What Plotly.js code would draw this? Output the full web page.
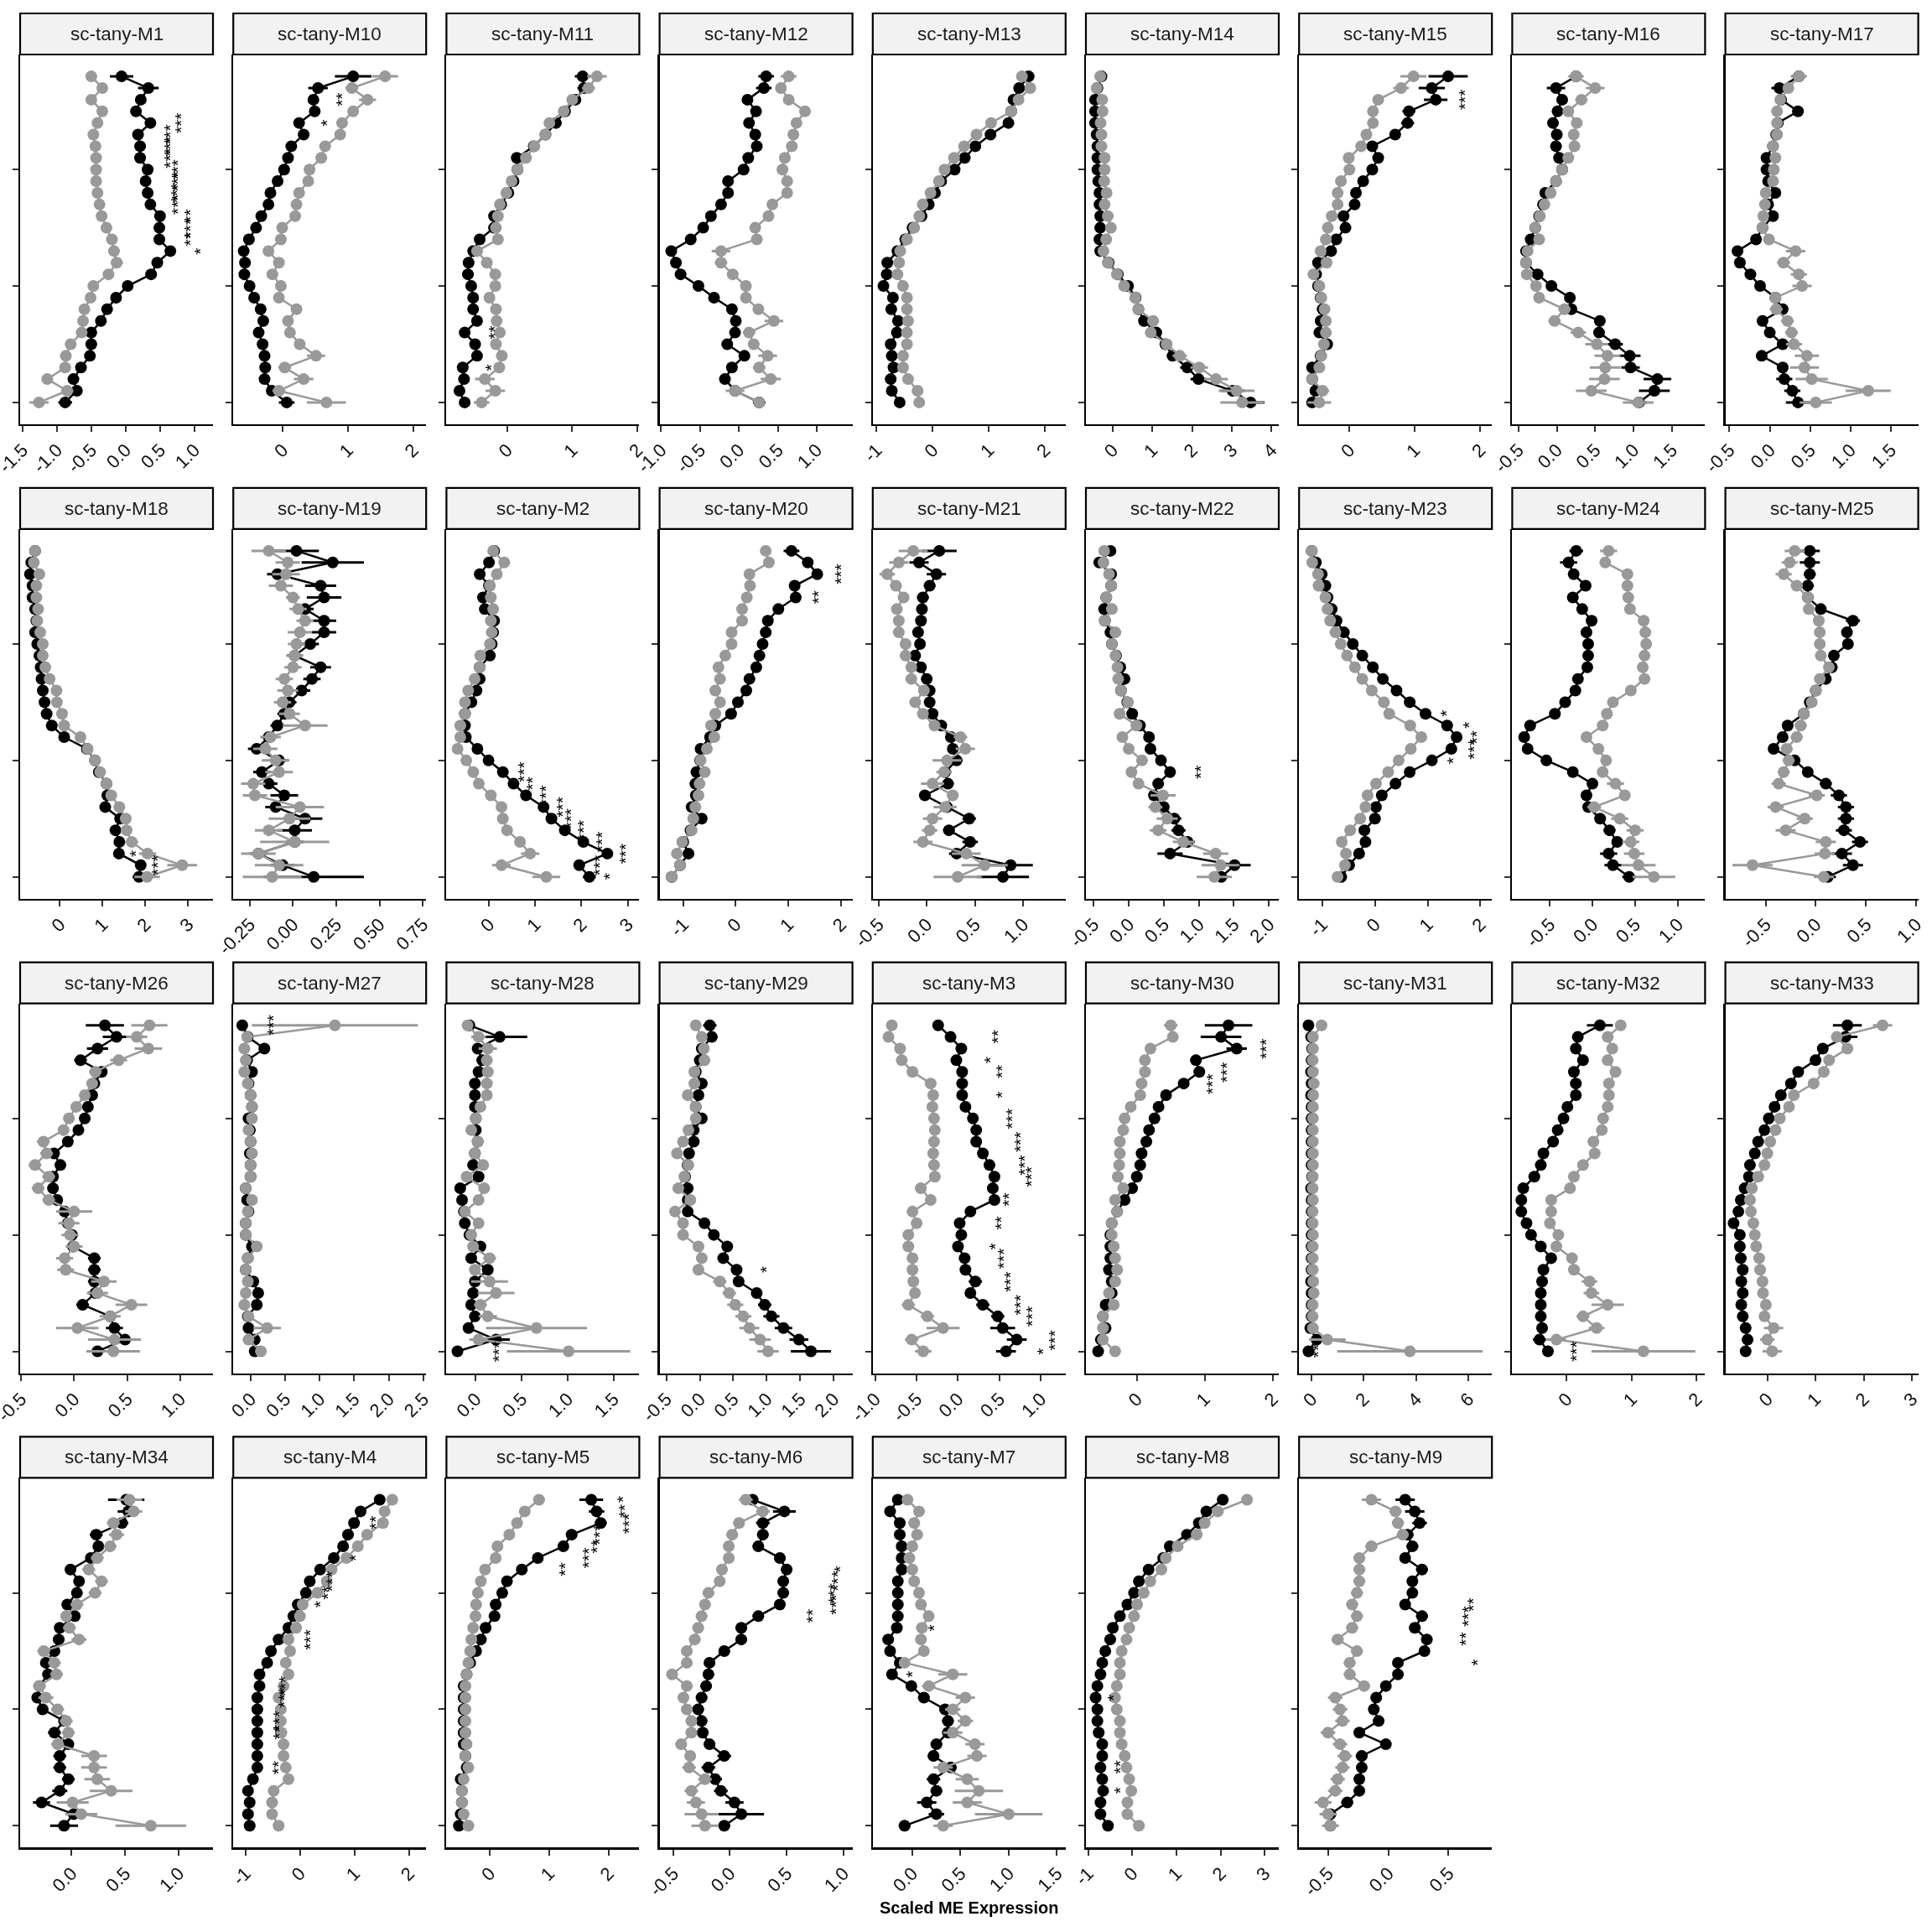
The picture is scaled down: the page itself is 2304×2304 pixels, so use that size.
<!DOCTYPE html>
<html><head><meta charset="utf-8">
<script src="https://cdn.plot.ly/plotly-3.0.1.min.js"></script>
<style>html,body{margin:0;padding:0;background:#fff}#chart{width:2304px;height:2304px;filter:grayscale(1)}</style>
</head><body><div id="chart"></div>
<script>
const panelNames = ["sc-tany-M1","sc-tany-M10","sc-tany-M11","sc-tany-M12","sc-tany-M13","sc-tany-M14","sc-tany-M15","sc-tany-M16","sc-tany-M17",
"sc-tany-M18","sc-tany-M19","sc-tany-M2","sc-tany-M20","sc-tany-M21","sc-tany-M22","sc-tany-M23","sc-tany-M24","sc-tany-M25",
"sc-tany-M26","sc-tany-M27","sc-tany-M28","sc-tany-M29","sc-tany-M3","sc-tany-M30","sc-tany-M31","sc-tany-M32","sc-tany-M33",
"sc-tany-M34","sc-tany-M4","sc-tany-M5","sc-tany-M6","sc-tany-M7","sc-tany-M8","sc-tany-M9"];
const rowPos = [28,27,26,25,24,23,22,21,20,19,18,17,16,15,14,13,12,11,10,9,8,7,6,5,4,3,2,1,0];
const yTickVals = [0,10,20];
const xAxisTitle = "Scaled ME Expression";

// values listed from top row to bottom row
const m1Black=[-0.06,0.33,0.22,0.15,0.36,0.18,0.21,0.21,0.32,0.29,0.32,0.36,0.50,0.49,0.49,0.65,0.46,0.37,0.03,-0.14,-0.27,-0.36,-0.50,-0.50,-0.52,-0.65,-0.76,-0.71,-0.88];
const m1Gray=[-0.50,-0.34,-0.50,-0.34,-0.41,-0.47,-0.44,-0.43,-0.43,-0.43,-0.41,-0.38,-0.35,-0.28,-0.20,-0.17,-0.13,-0.25,-0.47,-0.51,-0.60,-0.62,-0.64,-0.80,-0.87,-0.88,-1.14,-0.85,-1.26];
const m10Black=[1.08,0.54,0.47,0.49,0.25,0.32,0.13,0.08,0.02,-0.08,-0.19,-0.22,-0.33,-0.41,-0.52,-0.60,-0.58,-0.59,-0.51,-0.44,-0.34,-0.30,-0.37,-0.31,-0.28,-0.27,-0.28,-0.17,0.06];
const m10Gray=[1.57,1.06,1.30,1.08,0.91,0.88,0.65,0.59,0.41,0.39,0.25,0.21,0.19,-0.01,-0.03,-0.22,-0.06,-0.16,-0.03,-0.06,0.21,0.08,0.11,0.26,0.51,0.03,0.32,-0.06,0.67];
const m11Black=[1.16,1.18,1.05,0.89,0.75,0.59,0.41,0.15,0.16,0.10,0.02,-0.09,-0.20,-0.20,-0.42,-0.52,-0.59,-0.60,-0.55,-0.52,-0.52,-0.46,-0.65,-0.49,-0.46,-0.68,-0.66,-0.73,-0.65];
const m11Gray=[1.38,1.25,1.00,0.87,0.65,0.59,0.42,0.29,0.16,0.07,-0.01,-0.11,-0.14,-0.17,-0.14,-0.46,-0.31,-0.18,-0.18,-0.27,-0.17,-0.16,-0.11,-0.17,-0.08,-0.12,-0.34,-0.18,-0.39];
const m12Black=[0.35,0.32,0.11,0.22,0.13,0.21,0.23,0.12,0.06,-0.14,-0.14,-0.23,-0.36,-0.46,-0.62,-0.87,-0.81,-0.75,-0.52,-0.32,-0.09,-0.04,-0.05,-0.15,0.07,-0.09,-0.18,-0.05,0.26];
const m12Gray=[0.64,0.54,0.64,0.85,0.74,0.70,0.68,0.59,0.56,0.62,0.62,0.43,0.38,0.21,0.23,-0.23,-0.23,-0.08,0.09,0.09,0.25,0.45,0.13,0.19,0.37,0.26,0.41,-0.05,0.26];
const m13Black=[1.71,1.54,1.44,1.40,1.35,1.03,0.76,0.57,0.39,0.15,0.04,-0.07,-0.20,-0.36,-0.49,-0.63,-0.81,-0.82,-0.88,-0.71,-0.74,-0.62,-0.64,-0.75,-0.73,-0.70,-0.75,-0.73,-0.59];
const m13Gray=[1.59,1.74,1.53,1.40,1.04,0.78,0.56,0.38,0.21,0.11,-0.04,-0.18,-0.24,-0.33,-0.46,-0.58,-0.60,-0.63,-0.53,-0.46,-0.46,-0.44,-0.46,-0.46,-0.53,-0.53,-0.44,-0.27,-0.24];
const m14Black=[-0.28,-0.38,-0.44,-0.44,-0.44,-0.40,-0.38,-0.38,-0.38,-0.36,-0.33,-0.33,-0.31,-0.31,-0.33,-0.31,-0.10,0.13,0.39,0.58,0.65,0.79,1.10,1.33,1.51,1.88,2.16,3.02,3.47];
const m14Gray=[-0.31,-0.40,-0.26,-0.25,-0.30,-0.28,-0.28,-0.20,-0.20,-0.21,-0.15,-0.20,-0.12,-0.04,-0.16,-0.23,-0.12,0.11,0.29,0.57,0.65,1.02,0.96,1.36,1.69,2.18,2.60,3.12,3.26];
const m15Black=[1.51,1.26,1.32,0.91,0.89,0.70,0.35,0.44,0.35,0.21,0.10,0.08,-0.09,-0.06,-0.20,-0.28,-0.48,-0.51,-0.48,-0.44,-0.41,-0.44,-0.46,-0.34,-0.44,-0.57,-0.57,-0.52,-0.57];
const m15Gray=[0.98,0.79,0.44,0.36,0.36,0.26,0.18,-0.01,0.00,-0.13,-0.18,-0.18,-0.27,-0.33,-0.36,-0.44,-0.35,-0.55,-0.46,-0.43,-0.38,-0.36,-0.36,-0.39,-0.43,-0.46,-0.57,-0.41,-0.46];
const m16Black=[0.25,-0.01,0.07,0.01,-0.05,0.00,-0.01,0.03,0.07,-0.01,-0.15,-0.18,-0.23,-0.28,-0.34,-0.40,-0.40,-0.25,-0.07,0.17,0.19,0.56,0.55,0.76,0.95,0.96,1.31,1.27,1.07];
const m16Gray=[0.25,0.50,0.32,0.15,0.26,0.22,0.23,0.15,0.07,-0.01,-0.08,-0.16,-0.22,-0.28,-0.23,-0.38,-0.40,-0.39,-0.27,-0.23,0.10,-0.03,0.28,0.52,0.66,0.63,0.62,0.45,1.06];
const m17Black=[0.36,0.12,0.14,0.35,0.10,0.08,0.04,-0.04,-0.04,-0.02,0.07,-0.02,0.04,-0.09,-0.17,-0.40,-0.37,-0.24,-0.12,0.07,0.16,-0.09,0.00,0.16,-0.10,0.16,0.18,0.28,0.35];
const m17Gray=[0.36,0.23,0.13,0.09,0.09,0.09,0.04,0.07,0.05,0.04,-0.05,-0.06,-0.08,-0.09,-0.01,0.32,0.17,0.36,0.40,0.07,0.08,0.22,0.27,0.30,0.46,0.43,0.52,1.22,0.57];
const m18Black=[-0.58,-0.67,-0.70,-0.64,-0.64,-0.58,-0.55,-0.58,-0.53,-0.48,-0.45,-0.43,-0.40,-0.36,-0.31,-0.19,0.10,0.63,0.82,0.91,1.09,1.11,1.06,1.41,1.30,1.39,1.38,1.89,1.85];
const m18Gray=[-0.58,-0.61,-0.48,-0.55,-0.55,-0.51,-0.53,-0.46,-0.40,-0.40,-0.34,-0.24,-0.08,-0.07,0.05,0.10,0.48,0.65,0.82,0.94,1.09,1.20,1.39,1.54,1.56,1.68,2.05,2.86,2.04];
const m19Black=[0.02,0.23,-0.09,0.16,0.18,0.07,0.18,0.18,0.10,0.01,0.16,0.11,0.05,-0.02,-0.05,-0.09,-0.14,-0.21,-0.08,-0.18,-0.14,-0.05,-0.10,0.07,0.01,0.01,-0.20,-0.06,0.12];
const m19Gray=[-0.14,-0.03,-0.04,-0.07,0.00,0.03,0.07,0.04,0.02,0.01,0.00,-0.05,-0.03,-0.06,-0.02,0.07,-0.13,-0.16,-0.10,-0.08,-0.23,-0.22,0.04,-0.02,-0.14,0.01,-0.20,-0.08,-0.12];
const m2Black=[0.11,0.00,-0.20,0.00,-0.13,-0.09,0.11,0.09,0.06,0.02,-0.20,-0.20,-0.27,-0.38,-0.52,-0.52,-0.50,-0.25,-0.01,0.30,0.53,0.80,1.18,1.35,1.64,2.04,2.56,1.95,2.17];
const m2Gray=[0.09,0.33,0.17,0.02,0.04,0.09,0.04,0.06,0.02,-0.19,-0.20,-0.31,-0.45,-0.52,-0.52,-0.62,-0.62,-0.68,-0.49,-0.34,-0.22,0.04,0.27,0.30,0.39,0.67,0.89,0.27,1.24];
const m20Black=[1.06,1.37,1.55,1.12,1.14,0.81,0.61,0.57,0.51,0.45,0.39,0.26,0.20,0.04,-0.09,-0.39,-0.49,-0.67,-0.68,-0.75,-0.77,-0.76,-0.84,-0.65,-0.86,-1.00,-0.90,-1.06,-1.22];
const m20Gray=[0.57,0.63,0.26,0.27,0.21,0.12,0.12,-0.08,-0.08,-0.20,-0.33,-0.30,-0.39,-0.30,-0.39,-0.47,-0.41,-0.55,-0.67,-0.59,-0.69,-0.71,-0.77,-0.81,-0.84,-1.02,-1.12,-1.06,-1.22];
const m21Black=[0.13,-0.08,0.10,0.03,-0.04,-0.05,-0.06,-0.09,-0.07,-0.12,-0.06,0.00,0.03,0.03,0.06,0.15,0.25,0.27,0.31,0.19,0.22,-0.02,0.21,0.44,0.23,0.45,0.31,0.87,0.79];
const m21Gray=[-0.14,-0.29,-0.41,-0.32,-0.24,-0.31,-0.29,-0.29,-0.22,-0.22,-0.16,-0.16,-0.03,-0.12,-0.04,0.08,0.35,0.40,0.21,0.18,0.06,0.27,0.19,0.06,0.03,-0.04,0.41,0.60,0.32];
const m22Black=[-0.26,-0.42,-0.25,-0.25,-0.32,-0.35,-0.34,-0.26,-0.24,-0.18,-0.12,-0.06,-0.11,-0.02,0.05,0.16,0.29,0.31,0.46,0.59,0.42,0.36,0.50,0.65,0.71,0.84,0.59,1.51,1.32];
const m22Gray=[-0.35,-0.36,-0.28,-0.25,-0.32,-0.24,-0.34,-0.19,-0.24,-0.19,-0.16,-0.15,-0.11,-0.01,-0.13,0.11,-0.09,0.00,0.19,0.04,0.14,0.49,0.38,0.55,0.42,0.78,1.24,1.31,1.22];
const m23Black=[-1.20,-1.12,-1.01,-0.94,-0.90,-0.82,-0.73,-0.59,-0.42,-0.24,-0.04,0.15,0.41,0.66,0.96,1.37,1.55,1.45,1.08,0.66,0.39,0.13,0.02,0.00,-0.20,-0.18,-0.30,-0.49,-0.64];
const m23Gray=[-1.20,-1.19,-1.08,-1.07,-0.94,-0.90,-0.85,-0.75,-0.65,-0.53,-0.38,-0.24,-0.06,0.17,0.27,0.67,0.88,0.68,0.45,0.25,0.02,-0.14,-0.18,-0.28,-0.47,-0.63,-0.55,-0.57,-0.71];
const m24Black=[-0.19,-0.28,-0.22,-0.08,-0.23,-0.12,-0.01,-0.07,-0.05,-0.05,-0.06,-0.17,-0.20,-0.32,-0.44,-0.73,-0.80,-0.76,-0.54,-0.23,0.00,-0.07,-0.05,0.09,0.20,0.29,0.19,0.24,0.43];
const m24Gray=[0.19,0.15,0.41,0.41,0.42,0.44,0.60,0.62,0.63,0.61,0.59,0.61,0.45,0.24,0.17,0.12,-0.07,0.07,0.16,0.12,0.27,0.38,0.02,0.32,0.50,0.45,0.49,0.54,0.72];
const m25Black=[-0.06,-0.06,-0.06,-0.08,-0.08,0.05,0.37,0.31,0.32,0.18,0.16,0.10,0.00,-0.06,-0.12,-0.28,-0.33,-0.42,-0.21,-0.08,0.10,0.23,0.30,0.30,0.28,0.44,0.26,0.37,0.12];
const m25Gray=[-0.21,-0.26,-0.32,-0.19,-0.08,-0.07,0.03,0.04,0.04,0.05,0.13,0.04,0.00,-0.04,-0.12,-0.15,-0.19,-0.29,-0.27,-0.32,-0.37,0.01,-0.40,-0.11,-0.30,0.10,0.09,-0.63,0.08];
const m26Black=[0.29,0.40,0.22,0.06,0.26,0.19,0.17,0.13,0.10,0.04,-0.06,-0.19,-0.13,-0.20,-0.20,-0.16,-0.09,-0.06,-0.02,-0.01,0.19,0.19,0.19,0.20,0.08,0.34,0.38,0.48,0.22];
const m26Gray=[0.71,0.59,0.70,0.42,0.20,0.17,0.10,0.02,-0.05,-0.10,-0.29,-0.26,-0.37,-0.24,-0.34,-0.24,0.00,-0.05,-0.04,0.00,-0.09,-0.08,0.28,0.22,0.54,0.34,0.03,0.38,0.37];
const m27Black=[-0.12,-0.04,0.20,-0.05,0.02,-0.03,0.00,0.02,-0.03,-0.01,0.00,-0.01,0.00,0.00,-0.07,-0.05,-0.03,-0.07,-0.07,0.02,-0.04,-0.07,0.04,0.11,0.09,-0.04,-0.03,0.06,0.06];
const m27Gray=[1.22,-0.05,-0.09,-0.07,-0.09,-0.04,0.00,0.02,0.02,-0.03,0.00,0.02,0.00,0.00,-0.07,0.02,-0.04,-0.07,-0.07,0.09,-0.04,-0.07,-0.04,-0.07,-0.09,-0.03,0.24,-0.03,0.15];
const m28Black=[-0.07,0.26,0.02,0.07,0.03,-0.01,-0.01,-0.01,0.00,0.00,0.02,-0.01,-0.03,0.03,-0.17,-0.15,-0.13,-0.12,-0.07,0.05,-0.05,0.13,-0.01,-0.03,-0.05,-0.01,-0.08,0.22,-0.20];
const m28Gray=[-0.09,0.03,0.13,0.12,0.13,0.12,0.12,0.05,0.00,-0.05,0.02,-0.01,0.08,-0.10,0.09,0.03,-0.12,0.03,-0.05,-0.03,0.15,-0.01,0.15,0.22,0.05,0.13,0.66,0.03,1.01];
const m29Black=[0.15,0.18,0.03,0.00,-0.06,0.03,-0.02,-0.06,0.03,-0.09,-0.09,-0.16,-0.18,-0.22,-0.18,-0.18,-0.18,0.07,0.21,0.41,0.35,0.55,0.58,0.85,0.97,1.07,1.25,1.48,1.66];
const m29Gray=[-0.06,0.03,0.06,0.07,-0.08,-0.08,-0.18,-0.06,-0.06,-0.17,-0.25,-0.34,-0.17,-0.23,-0.32,-0.14,-0.37,-0.25,-0.25,-0.02,0.03,-0.02,0.30,0.44,0.53,0.65,0.74,0.90,1.02];
const m3Black=[-0.24,-0.09,0.04,-0.02,0.05,0.05,0.05,0.09,0.18,0.22,0.22,0.30,0.38,0.44,0.42,0.44,0.15,0.02,0.04,0.00,0.08,0.09,0.21,0.15,0.30,0.48,0.54,0.71,0.58];
const m3Gray=[-0.80,-0.84,-0.70,-0.68,-0.55,-0.33,-0.30,-0.31,-0.29,-0.28,-0.29,-0.30,-0.29,-0.28,-0.45,-0.33,-0.55,-0.50,-0.60,-0.60,-0.55,-0.55,-0.54,-0.52,-0.60,-0.37,-0.18,-0.56,-0.42];
const m30Black=[1.35,1.24,1.47,0.87,0.92,0.69,0.43,0.32,0.26,0.18,0.14,0.07,0.05,0.00,-0.07,-0.18,-0.29,-0.37,-0.39,-0.39,-0.39,-0.41,-0.37,-0.37,-0.46,-0.50,-0.46,-0.53,-0.57];
const m30Gray=[0.50,0.53,0.20,0.12,0.12,0.07,0.05,-0.09,-0.18,-0.20,-0.25,-0.25,-0.26,-0.28,-0.20,-0.32,-0.29,-0.37,-0.37,-0.34,-0.32,-0.29,-0.32,-0.41,-0.34,-0.50,-0.50,-0.50,-0.32];
const m31Black=[-0.12,-0.02,0.02,0.00,-0.02,0.00,-0.02,0.00,0.00,0.00,0.00,0.00,0.00,0.02,-0.02,0.00,0.00,0.00,0.00,0.00,0.00,0.00,-0.02,0.00,0.00,0.00,-0.05,0.19,-0.12];
const m31Gray=[0.38,0.05,0.05,0.04,0.05,0.08,0.06,0.05,0.05,0.05,0.05,0.05,0.05,0.04,0.04,0.05,0.04,0.04,0.05,0.04,0.04,0.04,0.06,0.08,0.04,0.04,0.05,0.60,3.76];
const m32Black=[0.51,0.17,0.14,0.25,0.11,0.14,0.14,0.01,-0.05,-0.14,-0.21,-0.36,-0.40,-0.50,-0.67,-0.70,-0.70,-0.62,-0.55,-0.40,-0.24,-0.36,-0.38,-0.40,-0.40,-0.40,-0.38,-0.42,-0.29];
const m32Gray=[0.83,0.63,0.70,0.63,0.75,0.65,0.65,0.63,0.56,0.54,0.41,0.43,0.25,0.11,0.05,-0.24,-0.24,-0.26,-0.13,-0.16,0.08,0.11,0.35,0.38,0.63,0.25,0.46,-0.16,1.18];
const m33Black=[1.66,1.62,1.15,1.00,0.64,0.49,0.28,0.15,0.03,-0.06,-0.19,-0.26,-0.36,-0.38,-0.47,-0.55,-0.60,-0.70,-0.57,-0.57,-0.55,-0.51,-0.54,-0.51,-0.54,-0.51,-0.45,-0.41,-0.45];
const m33Gray=[2.39,1.44,1.66,1.28,1.17,0.96,0.55,0.45,0.26,0.17,0.06,0.00,-0.06,-0.19,-0.32,-0.36,-0.34,-0.29,-0.26,-0.23,-0.17,-0.15,-0.10,-0.09,-0.03,-0.06,0.13,0.00,0.10];
const m34Black=[0.51,0.53,0.47,0.23,0.25,0.18,-0.01,0.07,0.05,-0.04,0.03,-0.11,-0.12,-0.16,-0.24,-0.22,-0.30,-0.32,-0.27,-0.07,-0.16,-0.03,-0.11,-0.11,-0.03,-0.11,-0.28,0.02,-0.07];
const m34Gray=[0.54,0.58,0.39,0.42,0.36,0.24,0.16,0.28,0.22,0.05,-0.05,-0.02,0.07,-0.26,-0.16,-0.14,-0.30,-0.24,-0.13,-0.05,-0.03,-0.13,0.21,0.21,0.24,0.37,0.01,0.09,0.74];
const m4Black=[1.46,1.11,0.99,0.88,0.79,0.62,0.37,0.18,0.11,-0.04,-0.12,-0.21,-0.39,-0.53,-0.60,-0.74,-0.74,-0.78,-0.78,-0.78,-0.78,-0.78,-0.78,-0.78,-0.86,-0.95,-0.92,-0.95,-0.92];
const m4Gray=[1.69,1.55,1.52,1.23,1.06,0.85,0.58,0.49,0.32,0.05,0.00,-0.07,-0.21,-0.18,-0.26,-0.21,-0.30,-0.39,-0.35,-0.35,-0.34,-0.30,-0.30,-0.26,-0.21,-0.48,-0.51,-0.51,-0.39];
const m5Black=[1.71,1.80,1.87,1.38,1.24,0.81,0.54,0.29,0.21,0.10,0.08,-0.07,-0.15,-0.23,-0.33,-0.39,-0.44,-0.44,-0.44,-0.44,-0.44,-0.44,-0.41,-0.39,-0.49,-0.47,-0.47,-0.49,-0.52];
const m5Gray=[0.83,0.59,0.46,0.33,0.13,0.10,-0.08,-0.15,-0.20,-0.23,-0.24,-0.28,-0.31,-0.33,-0.36,-0.39,-0.41,-0.41,-0.41,-0.41,-0.41,-0.39,-0.41,-0.36,-0.44,-0.47,-0.47,-0.44,-0.36];
const m6Black=[0.20,0.48,0.29,0.29,0.25,0.44,0.50,0.47,0.47,0.44,0.25,0.10,0.10,-0.05,-0.18,-0.19,-0.21,-0.25,-0.28,-0.25,-0.24,-0.18,-0.05,-0.19,-0.13,-0.08,0.04,0.10,-0.05];
const m6Gray=[0.14,0.29,0.08,0.02,-0.01,-0.01,-0.07,-0.09,-0.19,-0.22,-0.25,-0.28,-0.31,-0.38,-0.38,-0.51,-0.38,-0.41,-0.38,-0.34,-0.34,-0.43,-0.35,-0.36,-0.22,-0.34,-0.30,-0.25,-0.22];
const m7Black=[-0.15,-0.23,-0.13,-0.13,-0.11,-0.11,-0.11,-0.15,-0.15,-0.15,-0.15,-0.16,-0.25,-0.23,-0.13,-0.21,-0.01,0.12,0.34,0.37,0.37,0.25,0.22,0.40,0.22,0.25,0.15,0.25,-0.08];
const m7Gray=[-0.05,0.07,0.02,0.05,0.00,-0.03,0.00,0.02,0.07,0.09,0.17,0.10,0.09,0.12,-0.08,0.42,0.17,0.55,0.42,0.55,0.42,0.65,0.67,0.32,0.57,0.69,0.57,1.00,0.32];
const m8Black=[2.05,1.68,1.51,1.24,0.85,0.70,0.37,0.15,0.04,-0.11,-0.28,-0.44,-0.50,-0.61,-0.68,-0.72,-0.79,-0.83,-0.79,-0.79,-0.76,-0.68,-0.68,-0.72,-0.68,-0.66,-0.72,-0.72,-0.55];
const m8Gray=[2.60,1.94,1.64,1.46,1.03,0.76,0.66,0.41,0.26,0.11,0.04,-0.07,-0.13,-0.24,-0.28,-0.28,-0.35,-0.39,-0.35,-0.28,-0.28,-0.24,-0.17,-0.13,-0.07,-0.02,-0.11,-0.11,0.15];
const m9Black=[0.14,0.22,0.26,0.16,0.20,0.14,0.28,0.20,0.20,0.14,0.28,0.22,0.32,0.30,0.08,0.08,-0.02,-0.10,-0.12,-0.08,-0.24,-0.02,-0.22,-0.22,-0.24,-0.24,-0.34,-0.48,-0.48];
const m9Gray=[-0.14,0.06,0.08,0.12,-0.14,-0.24,-0.24,-0.24,-0.26,-0.30,-0.26,-0.30,-0.42,-0.26,-0.32,-0.32,-0.20,-0.44,-0.40,-0.38,-0.50,-0.40,-0.36,-0.38,-0.42,-0.44,-0.54,-0.50,-0.48];

// error bar half-widths (top row to bottom row)
const m1BlackErr=[0.17,0.15,0.07,0.06,0.06,0.05,0.05,0.05,0.05,0.05,0.05,0.05,0.05,0.05,0.05,0.06,0.05,0.05,0.05,0.05,0.05,0.05,0.05,0.05,0.05,0.06,0.06,0.08,0.10];
const m1GrayErr=[0.06,0.05,0.05,0.05,0.05,0.04,0.04,0.04,0.04,0.04,0.04,0.04,0.04,0.04,0.05,0.08,0.09,0.06,0.05,0.05,0.05,0.05,0.05,0.05,0.05,0.05,0.08,0.09,0.14];
const m10BlackErr=[0.28,0.15,0.08,0.06,0.05,0.05,0.04,0.04,0.04,0.04,0.04,0.04,0.04,0.04,0.04,0.04,0.04,0.04,0.04,0.04,0.04,0.04,0.04,0.04,0.04,0.05,0.06,0.07,0.12];
const m10GrayErr=[0.20,0.10,0.13,0.08,0.06,0.06,0.05,0.05,0.05,0.05,0.05,0.05,0.05,0.05,0.05,0.06,0.06,0.06,0.06,0.06,0.07,0.07,0.07,0.08,0.14,0.10,0.15,0.10,0.30];
const m11BlackErr=[0.12,0.10,0.06,0.05,0.05,0.04,0.04,0.04,0.04,0.04,0.04,0.04,0.04,0.04,0.04,0.04,0.04,0.04,0.04,0.04,0.04,0.04,0.04,0.04,0.04,0.04,0.04,0.05,0.05];
const m11GrayErr=[0.15,0.10,0.06,0.05,0.05,0.04,0.04,0.04,0.04,0.04,0.04,0.04,0.04,0.04,0.04,0.05,0.05,0.06,0.06,0.06,0.06,0.06,0.06,0.08,0.08,0.08,0.15,0.15,0.12];
const m12BlackErr=[0.10,0.10,0.06,0.05,0.04,0.04,0.04,0.04,0.04,0.04,0.04,0.04,0.04,0.04,0.04,0.04,0.04,0.04,0.04,0.04,0.05,0.05,0.05,0.05,0.06,0.05,0.07,0.06,0.08];
const m12GrayErr=[0.10,0.05,0.05,0.07,0.05,0.04,0.04,0.04,0.04,0.04,0.04,0.04,0.04,0.05,0.06,0.12,0.08,0.06,0.06,0.06,0.07,0.12,0.08,0.07,0.12,0.08,0.13,0.12,0.07];
const m13BlackErr=[0.10,0.05,0.05,0.04,0.04,0.04,0.04,0.04,0.04,0.04,0.04,0.04,0.04,0.04,0.04,0.04,0.04,0.04,0.04,0.04,0.04,0.04,0.04,0.04,0.04,0.04,0.04,0.05,0.07];
const m13GrayErr=[0.10,0.08,0.05,0.04,0.04,0.04,0.04,0.04,0.04,0.04,0.04,0.04,0.04,0.04,0.04,0.04,0.04,0.04,0.04,0.04,0.04,0.04,0.04,0.04,0.04,0.05,0.06,0.10,0.10];
const m14BlackErr=[0.04,0.04,0.04,0.04,0.04,0.04,0.04,0.04,0.04,0.04,0.04,0.04,0.04,0.04,0.04,0.04,0.04,0.05,0.06,0.06,0.08,0.10,0.10,0.12,0.14,0.18,0.20,0.30,0.35];
const m14GrayErr=[0.05,0.05,0.05,0.05,0.05,0.05,0.05,0.05,0.05,0.05,0.05,0.05,0.05,0.05,0.05,0.05,0.05,0.06,0.07,0.08,0.10,0.15,0.12,0.14,0.18,0.22,0.30,0.45,0.55];
const m15BlackErr=[0.30,0.20,0.18,0.10,0.10,0.08,0.06,0.06,0.05,0.05,0.05,0.05,0.05,0.05,0.05,0.05,0.05,0.05,0.05,0.05,0.05,0.05,0.05,0.05,0.05,0.05,0.05,0.06,0.08];
const m15GrayErr=[0.20,0.12,0.08,0.06,0.06,0.05,0.05,0.05,0.05,0.05,0.05,0.05,0.05,0.05,0.05,0.05,0.05,0.05,0.05,0.05,0.05,0.05,0.05,0.05,0.05,0.05,0.05,0.10,0.18];
const m16BlackErr=[0.08,0.12,0.07,0.06,0.05,0.05,0.05,0.05,0.05,0.05,0.05,0.05,0.05,0.05,0.05,0.05,0.05,0.05,0.05,0.06,0.06,0.07,0.07,0.10,0.14,0.12,0.18,0.20,0.10];
const m16GrayErr=[0.10,0.12,0.08,0.07,0.07,0.06,0.06,0.06,0.05,0.05,0.05,0.05,0.05,0.05,0.05,0.05,0.05,0.05,0.06,0.06,0.08,0.08,0.10,0.15,0.17,0.20,0.20,0.20,0.20];
const m17BlackErr=[0.08,0.10,0.07,0.07,0.06,0.05,0.05,0.05,0.05,0.05,0.05,0.05,0.05,0.05,0.05,0.05,0.05,0.05,0.05,0.05,0.06,0.06,0.06,0.07,0.06,0.07,0.10,0.10,0.15];
const m17GrayErr=[0.10,0.06,0.05,0.05,0.05,0.05,0.05,0.05,0.05,0.05,0.05,0.05,0.05,0.05,0.05,0.12,0.08,0.10,0.12,0.06,0.08,0.08,0.08,0.10,0.15,0.18,0.20,0.28,0.20];
const m18BlackErr=[0.05,0.05,0.05,0.05,0.05,0.05,0.05,0.05,0.05,0.05,0.05,0.05,0.05,0.05,0.05,0.05,0.05,0.05,0.05,0.05,0.05,0.06,0.06,0.07,0.08,0.08,0.10,0.12,0.15];
const m18GrayErr=[0.05,0.05,0.05,0.05,0.05,0.05,0.05,0.05,0.05,0.05,0.05,0.05,0.05,0.05,0.05,0.05,0.05,0.05,0.05,0.06,0.06,0.07,0.08,0.10,0.10,0.15,0.20,0.35,0.30];
const m19BlackErr=[0.13,0.18,0.06,0.09,0.10,0.05,0.07,0.07,0.05,0.04,0.06,0.05,0.05,0.04,0.04,0.04,0.04,0.05,0.05,0.05,0.05,0.08,0.06,0.10,0.10,0.05,0.05,0.07,0.29];
const m19GrayErr=[0.10,0.07,0.08,0.07,0.04,0.05,0.05,0.07,0.05,0.05,0.05,0.05,0.06,0.05,0.06,0.13,0.06,0.07,0.08,0.08,0.07,0.07,0.14,0.12,0.08,0.20,0.10,0.14,0.17];
const m2BlackErr=[0.10,0.06,0.05,0.05,0.05,0.05,0.05,0.05,0.05,0.05,0.05,0.05,0.05,0.05,0.05,0.05,0.05,0.05,0.05,0.05,0.05,0.05,0.06,0.06,0.07,0.08,0.10,0.12,0.14];
const m2GrayErr=[0.08,0.10,0.06,0.05,0.05,0.05,0.05,0.05,0.05,0.05,0.05,0.05,0.05,0.05,0.05,0.05,0.05,0.05,0.05,0.05,0.05,0.06,0.07,0.08,0.08,0.10,0.20,0.20,0.30];
const m20BlackErr=[0.15,0.10,0.10,0.07,0.06,0.05,0.05,0.05,0.05,0.05,0.05,0.05,0.05,0.05,0.05,0.05,0.05,0.05,0.05,0.05,0.05,0.05,0.05,0.05,0.05,0.05,0.05,0.05,0.05];
const m20GrayErr=[0.08,0.07,0.05,0.05,0.05,0.05,0.05,0.05,0.05,0.05,0.05,0.05,0.05,0.05,0.05,0.05,0.05,0.05,0.05,0.05,0.05,0.05,0.05,0.05,0.05,0.05,0.05,0.05,0.05];
const m21BlackErr=[0.18,0.10,0.10,0.06,0.06,0.05,0.05,0.05,0.05,0.05,0.05,0.05,0.05,0.05,0.05,0.05,0.05,0.05,0.06,0.06,0.06,0.06,0.06,0.07,0.06,0.08,0.08,0.23,0.27];
const m21GrayErr=[0.15,0.10,0.08,0.06,0.05,0.05,0.05,0.05,0.05,0.05,0.05,0.05,0.05,0.05,0.05,0.05,0.07,0.10,0.15,0.08,0.12,0.06,0.12,0.10,0.08,0.10,0.15,0.24,0.25];
const m22BlackErr=[0.06,0.05,0.04,0.04,0.04,0.04,0.04,0.04,0.04,0.04,0.04,0.04,0.04,0.04,0.04,0.04,0.04,0.04,0.04,0.06,0.06,0.06,0.07,0.10,0.10,0.10,0.18,0.23,0.10];
const m22GrayErr=[0.05,0.05,0.05,0.05,0.05,0.05,0.05,0.05,0.05,0.05,0.05,0.05,0.05,0.05,0.05,0.05,0.05,0.05,0.08,0.06,0.06,0.18,0.10,0.15,0.12,0.15,0.18,0.27,0.25];
const m23BlackErr=[0.05,0.04,0.04,0.04,0.04,0.04,0.04,0.04,0.04,0.04,0.04,0.04,0.04,0.04,0.04,0.04,0.04,0.04,0.04,0.04,0.04,0.04,0.04,0.04,0.04,0.04,0.04,0.05,0.05];
const m23GrayErr=[0.05,0.05,0.05,0.05,0.05,0.05,0.05,0.05,0.05,0.05,0.05,0.05,0.05,0.05,0.05,0.05,0.05,0.05,0.05,0.05,0.05,0.05,0.05,0.05,0.05,0.05,0.05,0.06,0.08];
const m24BlackErr=[0.08,0.10,0.06,0.06,0.05,0.05,0.05,0.05,0.05,0.05,0.05,0.05,0.05,0.05,0.05,0.05,0.05,0.05,0.05,0.05,0.05,0.05,0.05,0.05,0.07,0.06,0.10,0.10,0.08];
const m24GrayErr=[0.10,0.06,0.06,0.05,0.05,0.05,0.05,0.05,0.05,0.05,0.05,0.05,0.05,0.05,0.05,0.05,0.05,0.05,0.05,0.05,0.10,0.06,0.08,0.10,0.10,0.10,0.12,0.20,0.25];
const m25BlackErr=[0.10,0.10,0.06,0.06,0.05,0.05,0.07,0.05,0.05,0.05,0.05,0.05,0.04,0.04,0.04,0.04,0.04,0.04,0.04,0.05,0.06,0.08,0.08,0.08,0.08,0.08,0.10,0.10,0.08];
const m25GrayErr=[0.10,0.08,0.08,0.06,0.05,0.05,0.05,0.05,0.05,0.05,0.05,0.05,0.05,0.05,0.05,0.06,0.06,0.06,0.06,0.06,0.07,0.08,0.08,0.08,0.10,0.10,0.10,0.20,0.10];
const m26BlackErr=[0.18,0.13,0.10,0.06,0.05,0.05,0.04,0.04,0.04,0.04,0.04,0.04,0.04,0.04,0.04,0.04,0.04,0.05,0.05,0.05,0.06,0.06,0.06,0.07,0.06,0.06,0.08,0.06,0.10];
const m26GrayErr=[0.17,0.10,0.13,0.08,0.06,0.05,0.05,0.05,0.05,0.05,0.06,0.06,0.06,0.06,0.06,0.06,0.17,0.10,0.08,0.08,0.08,0.08,0.12,0.10,0.15,0.10,0.20,0.25,0.25];
const m27BlackErr=[0.04,0.04,0.08,0.04,0.04,0.04,0.04,0.04,0.04,0.04,0.04,0.04,0.04,0.04,0.04,0.04,0.04,0.04,0.04,0.04,0.04,0.04,0.04,0.04,0.04,0.04,0.04,0.05,0.05];
const m27GrayErr=[1.20,0.05,0.04,0.04,0.04,0.04,0.04,0.04,0.04,0.04,0.04,0.04,0.04,0.04,0.04,0.04,0.04,0.04,0.04,0.06,0.04,0.04,0.04,0.04,0.04,0.04,0.20,0.06,0.07];
const m28BlackErr=[0.05,0.30,0.06,0.06,0.04,0.04,0.04,0.04,0.04,0.04,0.04,0.04,0.04,0.04,0.04,0.04,0.04,0.04,0.04,0.04,0.04,0.05,0.04,0.04,0.04,0.04,0.05,0.15,0.04];
const m28GrayErr=[0.04,0.08,0.10,0.06,0.06,0.06,0.05,0.05,0.05,0.05,0.05,0.05,0.05,0.05,0.05,0.05,0.05,0.05,0.05,0.05,0.07,0.05,0.20,0.20,0.07,0.10,0.55,0.10,0.67];
const m29BlackErr=[0.10,0.08,0.04,0.04,0.04,0.04,0.04,0.04,0.04,0.04,0.04,0.04,0.04,0.04,0.04,0.04,0.04,0.04,0.04,0.04,0.04,0.05,0.08,0.08,0.10,0.12,0.13,0.14,0.30];
const m29GrayErr=[0.05,0.05,0.05,0.05,0.05,0.05,0.05,0.05,0.05,0.05,0.05,0.05,0.05,0.05,0.05,0.05,0.05,0.05,0.05,0.05,0.05,0.08,0.10,0.10,0.12,0.12,0.15,0.16,0.16];
const m3BlackErr=[0.06,0.06,0.05,0.05,0.05,0.05,0.05,0.05,0.05,0.05,0.05,0.05,0.05,0.05,0.05,0.05,0.05,0.05,0.05,0.05,0.05,0.06,0.08,0.06,0.08,0.08,0.15,0.12,0.12];
const m3GrayErr=[0.06,0.05,0.05,0.05,0.05,0.05,0.05,0.05,0.05,0.05,0.05,0.05,0.05,0.05,0.05,0.05,0.05,0.05,0.05,0.05,0.05,0.05,0.05,0.06,0.08,0.08,0.20,0.08,0.10];
const m30BlackErr=[0.35,0.30,0.15,0.08,0.08,0.06,0.05,0.05,0.05,0.05,0.05,0.05,0.05,0.05,0.05,0.05,0.05,0.05,0.05,0.05,0.05,0.05,0.05,0.05,0.05,0.05,0.05,0.05,0.05];
const m30GrayErr=[0.10,0.08,0.06,0.05,0.05,0.05,0.05,0.05,0.05,0.05,0.05,0.05,0.05,0.05,0.05,0.05,0.05,0.05,0.05,0.05,0.05,0.05,0.08,0.05,0.05,0.05,0.05,0.05,0.08];
const m31BlackErr=[0.05,0.05,0.05,0.05,0.05,0.05,0.05,0.05,0.05,0.05,0.05,0.05,0.05,0.05,0.05,0.05,0.05,0.05,0.05,0.05,0.05,0.05,0.05,0.05,0.05,0.05,0.05,0.10,0.10];
const m31GrayErr=[0.15,0.05,0.05,0.05,0.05,0.05,0.05,0.05,0.05,0.05,0.05,0.05,0.05,0.05,0.05,0.05,0.05,0.05,0.05,0.05,0.05,0.05,0.05,0.10,0.05,0.05,0.05,0.70,2.78];
const m32BlackErr=[0.20,0.06,0.05,0.05,0.05,0.05,0.05,0.05,0.05,0.05,0.05,0.05,0.05,0.05,0.05,0.05,0.05,0.05,0.05,0.05,0.05,0.05,0.05,0.05,0.05,0.05,0.05,0.10,0.06];
const m32GrayErr=[0.08,0.06,0.05,0.05,0.05,0.05,0.05,0.05,0.05,0.05,0.05,0.05,0.05,0.05,0.05,0.05,0.05,0.05,0.05,0.05,0.05,0.05,0.12,0.12,0.25,0.10,0.12,0.15,0.80];
const m33BlackErr=[0.30,0.25,0.08,0.06,0.05,0.05,0.05,0.05,0.05,0.05,0.05,0.05,0.05,0.05,0.05,0.05,0.05,0.05,0.05,0.05,0.05,0.05,0.05,0.05,0.05,0.05,0.05,0.08,0.06];
const m33GrayErr=[0.20,0.08,0.10,0.06,0.06,0.06,0.06,0.06,0.06,0.06,0.06,0.06,0.06,0.06,0.06,0.06,0.06,0.06,0.06,0.06,0.06,0.06,0.06,0.06,0.06,0.06,0.20,0.15,0.20];
const m34BlackErr=[0.17,0.10,0.06,0.06,0.05,0.05,0.05,0.05,0.05,0.05,0.05,0.05,0.05,0.05,0.05,0.05,0.05,0.05,0.05,0.05,0.06,0.05,0.06,0.06,0.06,0.07,0.08,0.06,0.13];
const m34GrayErr=[0.12,0.08,0.06,0.07,0.06,0.06,0.06,0.06,0.06,0.06,0.05,0.06,0.07,0.06,0.06,0.06,0.06,0.07,0.06,0.06,0.06,0.06,0.12,0.12,0.12,0.20,0.15,0.15,0.33];
const m4BlackErr=[0.08,0.06,0.05,0.05,0.05,0.05,0.05,0.05,0.05,0.05,0.05,0.05,0.05,0.05,0.05,0.05,0.05,0.05,0.05,0.05,0.05,0.05,0.05,0.05,0.05,0.05,0.05,0.05,0.05];
const m4GrayErr=[0.08,0.06,0.06,0.05,0.05,0.05,0.05,0.05,0.05,0.05,0.05,0.05,0.05,0.05,0.05,0.05,0.05,0.05,0.05,0.05,0.05,0.05,0.05,0.05,0.05,0.05,0.05,0.05,0.06];
const m5BlackErr=[0.20,0.13,0.10,0.08,0.06,0.05,0.05,0.05,0.05,0.05,0.05,0.05,0.05,0.05,0.05,0.05,0.05,0.05,0.05,0.05,0.05,0.05,0.05,0.05,0.05,0.05,0.05,0.05,0.05];
const m5GrayErr=[0.10,0.06,0.05,0.05,0.05,0.05,0.05,0.05,0.05,0.05,0.05,0.05,0.05,0.05,0.05,0.05,0.05,0.05,0.05,0.05,0.05,0.05,0.05,0.05,0.05,0.05,0.05,0.05,0.06];
const m6BlackErr=[0.05,0.10,0.06,0.05,0.05,0.05,0.05,0.05,0.05,0.05,0.05,0.05,0.05,0.05,0.05,0.05,0.05,0.05,0.05,0.05,0.05,0.05,0.06,0.06,0.06,0.06,0.08,0.20,0.05];
const m6GrayErr=[0.06,0.06,0.05,0.05,0.05,0.05,0.05,0.05,0.05,0.05,0.05,0.05,0.05,0.05,0.05,0.05,0.05,0.05,0.05,0.05,0.05,0.05,0.05,0.06,0.06,0.06,0.08,0.15,0.12];
const m7BlackErr=[0.05,0.05,0.05,0.05,0.05,0.05,0.05,0.05,0.05,0.05,0.05,0.05,0.05,0.05,0.05,0.05,0.05,0.06,0.06,0.06,0.06,0.06,0.06,0.06,0.07,0.06,0.10,0.08,0.06];
const m7GrayErr=[0.05,0.05,0.05,0.05,0.05,0.05,0.05,0.05,0.05,0.05,0.05,0.05,0.05,0.05,0.05,0.15,0.07,0.10,0.08,0.08,0.10,0.10,0.10,0.10,0.12,0.25,0.15,0.35,0.10];
const m8BlackErr=[0.08,0.06,0.05,0.05,0.05,0.05,0.05,0.05,0.05,0.05,0.05,0.05,0.05,0.05,0.05,0.05,0.05,0.05,0.05,0.05,0.05,0.05,0.05,0.05,0.05,0.05,0.05,0.05,0.05];
const m8GrayErr=[0.10,0.08,0.06,0.06,0.05,0.05,0.05,0.05,0.05,0.05,0.05,0.05,0.05,0.05,0.05,0.05,0.05,0.05,0.05,0.05,0.05,0.05,0.05,0.05,0.05,0.05,0.06,0.06,0.08];
const m9BlackErr=[0.08,0.08,0.06,0.05,0.05,0.04,0.05,0.04,0.04,0.04,0.05,0.04,0.04,0.04,0.04,0.04,0.04,0.04,0.04,0.04,0.04,0.04,0.05,0.04,0.04,0.04,0.05,0.05,0.05];
const m9GrayErr=[0.08,0.05,0.05,0.05,0.05,0.05,0.05,0.05,0.05,0.05,0.05,0.05,0.05,0.05,0.05,0.05,0.05,0.06,0.06,0.06,0.06,0.06,0.06,0.06,0.06,0.06,0.07,0.07,0.07];

const blackSeries=[m1Black,m10Black,m11Black,m12Black,m13Black,m14Black,m15Black,m16Black,m17Black,m18Black,m19Black,m2Black,m20Black,m21Black,m22Black,m23Black,m24Black,m25Black,m26Black,m27Black,m28Black,m29Black,m3Black,m30Black,m31Black,m32Black,m33Black,m34Black,m4Black,m5Black,m6Black,m7Black,m8Black,m9Black];
const graySeries=[m1Gray,m10Gray,m11Gray,m12Gray,m13Gray,m14Gray,m15Gray,m16Gray,m17Gray,m18Gray,m19Gray,m2Gray,m20Gray,m21Gray,m22Gray,m23Gray,m24Gray,m25Gray,m26Gray,m27Gray,m28Gray,m29Gray,m3Gray,m30Gray,m31Gray,m32Gray,m33Gray,m34Gray,m4Gray,m5Gray,m6Gray,m7Gray,m8Gray,m9Gray];
const blackErrs=[m1BlackErr,m10BlackErr,m11BlackErr,m12BlackErr,m13BlackErr,m14BlackErr,m15BlackErr,m16BlackErr,m17BlackErr,m18BlackErr,m19BlackErr,m2BlackErr,m20BlackErr,m21BlackErr,m22BlackErr,m23BlackErr,m24BlackErr,m25BlackErr,m26BlackErr,m27BlackErr,m28BlackErr,m29BlackErr,m3BlackErr,m30BlackErr,m31BlackErr,m32BlackErr,m33BlackErr,m34BlackErr,m4BlackErr,m5BlackErr,m6BlackErr,m7BlackErr,m8BlackErr,m9BlackErr];
const grayErrs=[m1GrayErr,m10GrayErr,m11GrayErr,m12GrayErr,m13GrayErr,m14GrayErr,m15GrayErr,m16GrayErr,m17GrayErr,m18GrayErr,m19GrayErr,m2GrayErr,m20GrayErr,m21GrayErr,m22GrayErr,m23GrayErr,m24GrayErr,m25GrayErr,m26GrayErr,m27GrayErr,m28GrayErr,m29GrayErr,m3GrayErr,m30GrayErr,m31GrayErr,m32GrayErr,m33GrayErr,m34GrayErr,m4GrayErr,m5GrayErr,m6GrayErr,m7GrayErr,m8GrayErr,m9GrayErr];

// x-axis limits and tick labels per panel
const xRanges=[[-1.535,1.27],[-0.76,2.2],[-0.93,2.03],[-1.02,1.46],[-1.07,2.37],[-0.67,4.18],[-0.77,2.18],[-0.58,1.93],[-0.55,1.84],
[-0.93,3.58],[-0.345,0.77],[-0.92,3.25],[-1.45,2.22],[-0.56,1.44],[-0.61,2.14],[-1.44,2.22],[-0.94,1.32],[-0.90,1.02],
[-0.51,1.31],[-0.25,2.54],[-0.32,1.78],[-0.60,2.28],[-1.03,1.30],[-0.75,2.09],[-0.48,6.9],[-0.84,2.13],[-0.87,3.13],
[-0.48,1.32],[-1.22,2.31],[-0.73,2.52],[-0.62,1.08],[-0.41,1.59],[-1.05,3.32],[-0.74,0.86]];
const xTickVals=[[-1.5,-1,-0.5,0,0.5,1],[0,1,2],[0,1,2],[-1,-0.5,0,0.5,1],[-1,0,1,2],[0,1,2,3,4],[0,1,2],[-0.5,0,0.5,1,1.5],[-0.5,0,0.5,1,1.5],
[0,1,2,3],[-0.25,0,0.25,0.5,0.75],[0,1,2,3],[-1,0,1,2],[-0.5,0,0.5,1],[-0.5,0,0.5,1,1.5,2],[-1,0,1,2],[-0.5,0,0.5,1],[-0.5,0,0.5,1],
[-0.5,0,0.5,1],[0,0.5,1,1.5,2,2.5],[0,0.5,1,1.5],[-0.5,0,0.5,1,1.5,2],[-1,-0.5,0,0.5,1],[0,1,2],[0,2,4,6],[0,1,2],[0,1,2,3],
[0,0.5,1],[-1,0,1,2],[0,1,2],[-0.5,0,0.5,1],[0,0.5,1,1.5],[-1,0,1,2,3],[-0.5,0,0.5]];
const xTickDecimals=[1,0,0,1,0,0,0,1,1, 0,2,0,0,1,1,0,1,1, 1,1,1,1,1,0,0,0,0, 1,0,0,1,1,0,1];

// significance stars: [panel, row from top (1-based), x value, label]
const stars=[
["sc-tany-M1",5,0.80,"***"],["sc-tany-M1",6,0.64,"***"],["sc-tany-M1",7,0.64,"***"],["sc-tany-M1",8,0.64,"***"],["sc-tany-M1",9,0.75,"***"],["sc-tany-M1",10,0.75,"***"],["sc-tany-M1",11,0.75,"***"],["sc-tany-M1",12,0.76,"***"],["sc-tany-M1",13,0.94,"**"],["sc-tany-M1",14,0.94,"***"],["sc-tany-M1",15,0.94,"**"],["sc-tany-M1",16,1.08,"*"],
["sc-tany-M10",3,0.91,"**"],["sc-tany-M10",5,0.68,"*"],
["sc-tany-M11",23,-0.2,"**"],["sc-tany-M11",26,-0.25,"*"],
["sc-tany-M15",3,1.77,"***"],
["sc-tany-M18",27,1.78,"*"],["sc-tany-M18",28,2.29,"***"],
["sc-tany-M2",20,0.76,"***"],["sc-tany-M2",21,0.94,"**"],["sc-tany-M2",22,1.22,"***"],["sc-tany-M2",23,1.58,"***"],["sc-tany-M2",24,1.76,"***"],["sc-tany-M2",25,2.03,"***"],["sc-tany-M2",26,2.43,"***"],["sc-tany-M2",27,2.96,"***"],["sc-tany-M2",28,2.38,"***"],["sc-tany-M2",29,2.6,"*"],
["sc-tany-M20",3,1.99,"***"],["sc-tany-M20",5,1.57,"**"],
["sc-tany-M22",20,1.03,"**"],
["sc-tany-M23",15,1.35,"*"],["sc-tany-M23",16,1.78,"*"],["sc-tany-M23",17,1.92,"**"],["sc-tany-M23",18,1.88,"***"],["sc-tany-M23",19,1.49,"*"],
["sc-tany-M27",1,0.33,"***"],
["sc-tany-M28",29,0.25,"***"],
["sc-tany-M29",22,0.99,"*"],
["sc-tany-M3",2,0.48,"**"],["sc-tany-M3",4,0.38,"*"],["sc-tany-M3",5,0.52,"**"],["sc-tany-M3",7,0.52,"*"],["sc-tany-M3",9,0.65,"***"],["sc-tany-M3",11,0.75,"***"],["sc-tany-M3",13,0.80,"***"],["sc-tany-M3",14,0.88,"***"],["sc-tany-M3",16,0.61,"**"],["sc-tany-M3",18,0.52,"**"],["sc-tany-M3",20,0.45,"*"],["sc-tany-M3",21,0.55,"***"],["sc-tany-M3",23,0.63,"***"],["sc-tany-M3",25,0.75,"***"],["sc-tany-M3",26,0.90,"***"],["sc-tany-M3",28,1.17,"***"],["sc-tany-M3",29,1.02,"*"],
["sc-tany-M30",3,1.90,"***"],["sc-tany-M30",5,1.31,"***"],["sc-tany-M30",6,1.10,"***"],
["sc-tany-M31",29,0.24,"**"],
["sc-tany-M32",29,0.14,"***"],
["sc-tany-M4",3,1.38,"**"],["sc-tany-M4",6,1.02,"*"],["sc-tany-M4",8,0.58,"***"],["sc-tany-M4",9,0.50,"**"],["sc-tany-M4",10,0.37,"*"],["sc-tany-M4",13,0.18,"***"],["sc-tany-M4",17,-0.28,"***"],["sc-tany-M4",18,-0.30,"***"],["sc-tany-M4",20,-0.39,"***"],["sc-tany-M4",21,-0.39,"**"],["sc-tany-M4",24,-0.39,"**"],
["sc-tany-M5",1,2.24,"*"],["sc-tany-M5",2,2.27,"**"],["sc-tany-M5",3,2.33,"***"],["sc-tany-M5",4,1.84,"***"],["sc-tany-M5",5,1.80,"**"],["sc-tany-M5",6,1.67,"***"],["sc-tany-M5",7,1.27,"**"],
["sc-tany-M6",7,0.97,"*"],["sc-tany-M6",8,0.95,"***"],["sc-tany-M6",9,0.92,"***"],["sc-tany-M6",10,0.93,"***"],["sc-tany-M6",11,0.72,"**"],
["sc-tany-M7",12,0.22,"*"],["sc-tany-M7",16,0.0,"*"],
["sc-tany-M8",18,-0.44,"*"],["sc-tany-M8",24,-0.28,"**"],["sc-tany-M8",26,-0.28,"*"],
["sc-tany-M9",10,0.70,"**"],["sc-tany-M9",11,0.66,"***"],["sc-tany-M9",13,0.64,"**"],["sc-tany-M9",15,0.74,"*"]
];

// ---------- drawing ----------
const W=2304,H=2304;
const COLS=9, COL_X0=24, COL_STEP=254.2, PANEL_W=230;
const ROW_Y0=16, ROW_STEP=565.8, STRIP_H=49, PLOT_H=441;
const FONT="Liberation Sans, Arial, Helvetica, sans-serif";
const BLACK="#000000", GRAY="#999999";

const traces=[], shapes=[], annotations=[];
const layout={width:W,height:H,margin:{l:0,r:0,t:0,b:0},paper_bgcolor:"#ffffff",plot_bgcolor:"rgba(0,0,0,0)",
  showlegend:false,hovermode:false,font:{family:FONT,color:"#000"}};

panelNames.forEach((name,i)=>{
  const r=Math.floor(i/COLS), c=i%COLS;
  const left=COL_X0+COL_STEP*c, right=left+PANEL_W;
  const top=ROW_Y0+ROW_STEP*r, plotTop=top+STRIP_H, plotBottom=plotTop+PLOT_H;
  const xa = i===0 ? "x" : "x"+(i+1), ya = i===0 ? "y" : "y"+(i+1);
  const xk = i===0 ? "xaxis" : "xaxis"+(i+1), yk = i===0 ? "yaxis" : "yaxis"+(i+1);
  const d=xTickDecimals[i];
  layout[xk]={domain:[left/W,right/W],anchor:ya,range:xRanges[i],tickmode:"array",tickvals:xTickVals[i],
    ticktext:xTickVals[i].map(v=>v.toFixed(d)),tickangle:-45,ticks:"outside",ticklen:7,tickwidth:2,tickcolor:"#333",
    showline:true,linecolor:"#000",linewidth:2.2,showgrid:false,zeroline:false,fixedrange:true,ticklabeloverflow:"allow",
    tickfont:{family:FONT,size:22,color:"#111"}};
  layout[yk]={domain:[1-plotBottom/H,1-plotTop/H],anchor:xa,range:[-1.88,29.88],tickmode:"array",tickvals:yTickVals,
    showticklabels:false,ticks:"outside",ticklen:7,tickwidth:2,tickcolor:"#333",showline:true,linecolor:"#000",
    linewidth:2.2,showgrid:false,zeroline:false,fixedrange:true};
  traces.push({type:"scatter",mode:"lines+markers",x:blackSeries[i],y:rowPos,xaxis:xa,yaxis:ya,
    line:{color:BLACK,width:2.5},marker:{color:BLACK,size:14},cliponaxis:true,
    error_x:{type:"data",array:blackErrs[i],visible:true,color:BLACK,thickness:3,width:0}});
  traces.push({type:"scatter",mode:"lines+markers",x:graySeries[i],y:rowPos,xaxis:xa,yaxis:ya,
    line:{color:GRAY,width:2.5},marker:{color:GRAY,size:14},cliponaxis:true,
    error_x:{type:"data",array:grayErrs[i],visible:true,color:GRAY,thickness:3,width:0}});
  shapes.push({type:"rect",xref:"paper",yref:"paper",x0:left/W,x1:right/W,y0:1-(top+STRIP_H)/H,y1:1-top/H,
    fillcolor:"#F2F2F2",line:{color:"#000",width:2.2},layer:"above"});
  annotations.push({xref:"paper",yref:"paper",x:(left+right)/2/W,y:1-(top+STRIP_H/2)/H,text:name,showarrow:false,
    xanchor:"center",yanchor:"middle",font:{family:FONT,size:22.5,color:"#1a1a1a"}});
});

stars.forEach(s=>{
  const i=panelNames.indexOf(s[0]);
  const xa = i===0 ? "x" : "x"+(i+1), ya = i===0 ? "y" : "y"+(i+1);
  annotations.push({xref:xa,yref:ya,x:s[2],y:rowPos[s[1]-1],text:s[3],showarrow:false,textangle:-90,
    xanchor:"center",yanchor:"middle",font:{family:FONT,size:21,color:"#000"}});
});

annotations.push({xref:"paper",yref:"paper",x:1155/W,y:1-2275/H,text:"<b>"+xAxisTitle+"</b>",showarrow:false,
  xanchor:"center",yanchor:"middle",font:{family:FONT,size:20,color:"#000"}});

layout.shapes=shapes;
layout.annotations=annotations;
Plotly.newPlot("chart",traces,layout,{displayModeBar:false,staticPlot:true});
</script>
</body></html>
